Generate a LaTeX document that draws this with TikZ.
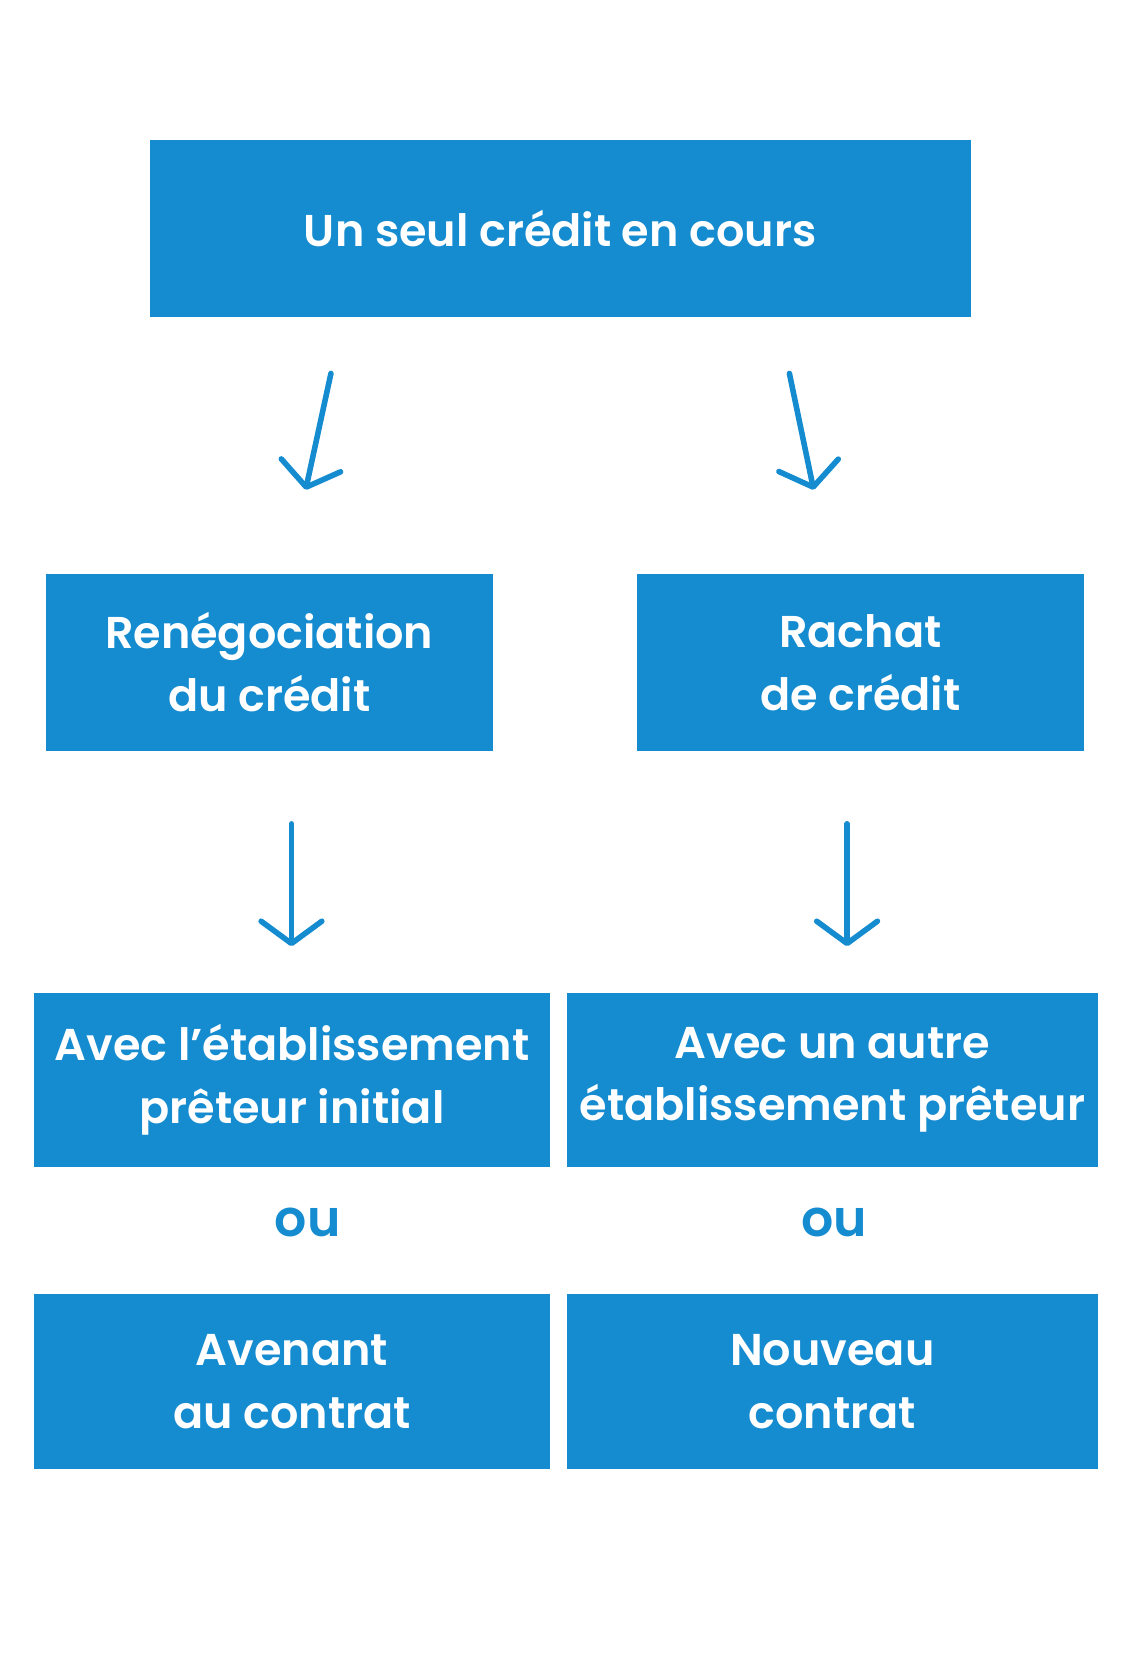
\documentclass[tikz,border=0pt]{standalone}
\usepackage{fontspec}
\setmainfont{Poppins}[BoldFont={Poppins SemiBold}]
\usetikzlibrary{arrows.meta}
\definecolor{bl}{HTML}{158BD0}
\begin{document}
\begin{tikzpicture}[x=1pt,y=-1pt,
  box/.style={fill=bl,text=white,inner sep=0pt,font=\fontsize{44}{62}\selectfont\bfseries,align=center},
  arr/.style={draw=bl,line width=5.5pt,line cap=round,-{Straight Barb[length=22pt,width=60pt,line cap=round,line join=round]}},
  ou/.style={text=bl,font=\fontsize{50}{56}\selectfont\bfseries}]
\useasboundingbox (0,0) rectangle (1107,1660);
\node[box,minimum width=811pt,minimum height=175pt] (top) at (553.5,225.5) {Un seul crédit en cours};
\node[box,minimum width=442pt,minimum height=175pt] (ml) at (266,654.5) {Renégociation\\du crédit};
\node[box,minimum width=442pt,minimum height=175pt] (mr) at (850,654.5) {Rachat\\de crédit};
\node[box,minimum width=509pt,minimum height=172pt] (al) at (288.5,1067) {Avec l’établissement\\prêteur initial};
\node[box,minimum width=525pt,minimum height=172pt] (ar) at (822.5,1067) {Avec un autre\\établissement prêteur};
\node[ou] (oul) at (304,1208) {ou};
\node[ou] (our) at (824,1208) {ou};
\node[box,minimum width=509pt,minimum height=172pt] (bl1) at (288.5,1365) {Avenant\\au contrat};
\node[box,minimum width=525pt,minimum height=172pt] (br) at (822.5,1365) {Nouveau\\contrat};
\coordinate (a1s) at (327,369); \coordinate (a1e) at (302,484);
\coordinate (a2s) at (780,369); \coordinate (a2e) at (804,484);
\coordinate (a3s) at (288,814); \coordinate (a3e) at (288,935);
\coordinate (a4s) at (837,814); \coordinate (a4e) at (837,935);
\draw[arr] (a1s) -- (a1e);
\draw[arr] (a2s) -- (a2e);
\draw[arr] (a3s) -- (a3e);
\draw[arr] (a4s) -- (a4e);
\end{tikzpicture}
\end{document}
